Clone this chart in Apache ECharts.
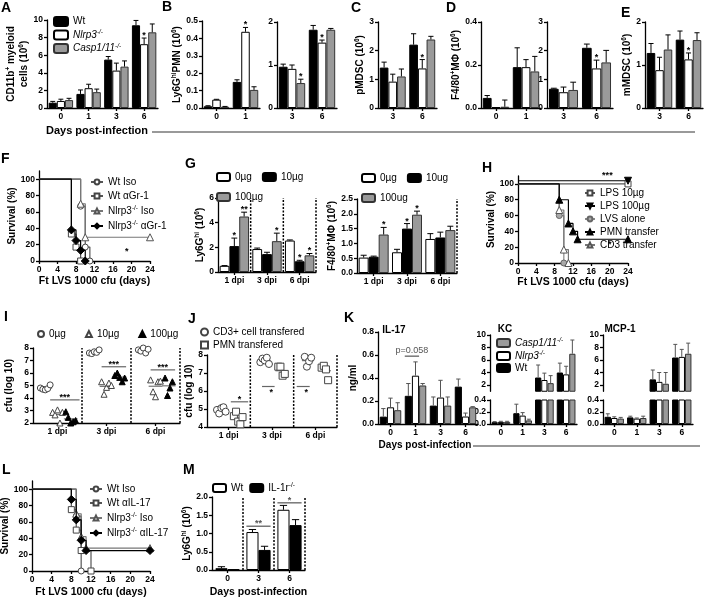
<!DOCTYPE html>
<html><head><meta charset="utf-8">
<script src="https://cdn.jsdelivr.net/npm/echarts@6/dist/echarts.min.js"></script>
<style>html,body{margin:0;padding:0;background:#fff}#c{width:706px;height:599px}</style>
</head><body><div id="c"></div>
<script>
// ---------------- DATA ----------------
const DAYS_A = ['0','1','3','6'];
const A_wt = [0.6, 1.6, 5.5, 9.4],   A_wt_err = [0.15, 0.45, 0.35, 0.55];
const A_nlrp3 = [0.8, 2.25, 4.25, 7.25], A_nlrp3_err = [0.2, 0.45, 0.85, 0.7], A_nlrp3_sig = ['','','','*'];
const A_casp = [0.9, 1.8, 4.7, 8.6], A_casp_err = [0.2, 0.35, 0.65, 0.95];

const DAYS_01 = ['0','1'], DAYS_36 = ['3','6'];
const B_wt = [0.01, 0.15], B_wt_err = [0.003, 0.012];
const B_nlrp3 = [0.048, 0.438], B_nlrp3_err = [0.002, 0.025], B_nlrp3_sig = ['','*'];
const B_casp = [0.007, 0.104], B_casp_err = [0.002, 0.018];
const B2_wt = [0.96, 1.82], B2_wt_err = [0.06, 0.1];
const B2_nlrp3 = [0.91, 1.52], B2_nlrp3_err = [0.09, 0.06], B2_nlrp3_sig = ['','*'];
const B2_casp = [0.58, 1.82], B2_casp_err = [0.09, 0.03], B2_casp_sig = ['*',''];

const C_wt = [1.41, 2.21], C_wt_err = [0.19, 0.38];
const C_nlrp3 = [0.92, 1.38], C_nlrp3_err = [0.26, 0.31], C_nlrp3_sig = ['','*'];
const C_casp = [1.1, 2.39], C_casp_err = [0.26, 0.11];

const D_wt = [0.047, 0.19], D_wt_err = [0.011, 0.09];
const D_nlrp3 = [0.004, 0.19], D_nlrp3_err = [0, 0.035];
const D_casp = [0.006, 0.17], D_casp_err = [0.031, 0.07];
const D2_wt = [0.67, 2.1], D2_wt_err = [0.02, 0.13];
const D2_nlrp3 = [0.55, 1.38], D2_nlrp3_err = [0.18, 0.29], D2_nlrp3_sig = ['','*'];
const D2_casp = [0.63, 1.59], D2_casp_err = [0.27, 0.42];

const E_wt = [1.28, 1.59], E_wt_err = [0.22, 0.2];
const E_nlrp3 = [0.88, 1.13], E_nlrp3_err = [0.3, 0.15], E_nlrp3_sig = ['','*'];
const E_casp = [1.36, 1.58], E_casp_err = [0.34, 0.17];

// survival (day, % survival)
const F_wt_iso = [[0,100],[9,67],[10,17],[11,0]];
const F_wt_gr1 = [[0,100],[7,33],[8,17],[9,0]];
const F_nlrp3_iso = [[0,100],[9,70],[10,29],[24,29]];
const F_nlrp3_gr1 = [[0,100],[7,38],[8,25],[9,13],[10,0]];
const F_notes = [[19, 12, '*']];

const DPI = ['1 dpi','3 dpi','6 dpi'];
const G_0 = [0.5, 1.86, 2.55], G_0_err = [0.02, 0.08, 0.05];
const G_10 = [2.1, 1.45, 0.87], G_10_err = [0.65, 0.15, 0.08], G_10_sig = ['*','','*'];
const G_100 = [4.5, 2.5, 1.35], G_100_err = [0.35, 0.65, 0.15], G_100_sig = ['**','*','*'];
const GR_0 = [0.52, 0.7, 1.15], GR_0_err = [0.08, 0.1, 0.18];
const GR_10 = [0.55, 1.5, 1.2], GR_10_err = [0.02, 0.17, 0.18], GR_10_sig = ['','*',''];
const GR_100 = [1.3, 1.97, 1.45], GR_100_err = [0.24, 0.12, 0.13], GR_100_sig = ['*','*',''];

const H_lps10 = [[0,100],[24,100]];
const H_lps100 = [[0,104],[24,104]];
const H_lvs = [[0,100],[9,60],[10,0]];
const H_pmn = [[0,100],[9,80],[11,50],[12,40],[13,30],[24,30]];
const H_cd3 = [[0,100],[9,67],[10,17],[11,0]];
const H_notes = [[19.5, 111, '***'], [20, 24, '*']];

const I_0ug = [[4.8, 4.7, 4.65, 4.75, 5.05], [7.6, 7.55, 7.7, 7.65, 7.85], [7.85, 7.75, 8.0, 7.6, 7.9]];
const I_10ug = [[2.85, 2.65, 3.05, 2.0, 2.85], [5.3, 4.3, 4.85, 5.2, 5.0], [5.45, 4.5, 4.1, 5.3, 5.35]];
const I_100ug = [[2.9, 2.45, 2.0, 2.1, 2.2], [5.8, 6.0, 5.65, 5.3, 5.6], [5.6, 4.2, 4.8, 5.3]];
const I_sig = [[0.35, 0.95, 3.85, '***', 0], [1.4, 1.9, 6.5, '***', 0], [2.4, 2.9, 6.25, '***', 0]];

const J_cd3 = [[4.95, 4.75, 5.05, 5.1, 4.85], [7.6, 7.8, 7.7, 7.85, 7.5], [7.9, 7.35, 7.65, 7.85]];
const J_pmn = [[4.6, 4.85, 4.3, 4.15, 4.55], [7.35, 7.35, 6.85, 6.95], [7.3, 7.4, 7.2, 6.6]];
const J_sig = [[0.55, 0.95, 5.4, '*', 0], [1.27, 1.56, 6.25, '*', 1], [2.07, 2.37, 6.25, '*', 1]];

const K_il17_wt = [0.064, 0.245, 0.16, 0.325], K_il17_wt_err = [0.07, 0.107, 0.075, 0.066];
const K_il17_nlrp3 = [0.145, 0.42, 0.23, 0.065], K_il17_nlrp3_err = [0.08, 0.12, 0.15, 0.03];
const K_il17_casp = [0.12, 0.335, 0.16, 0.145], K_il17_casp_err = [0.065, 0.017, 0.075, 0.006];
const KC_wt = [0.03, 0.18, 3.2, 4.0], KC_wt_err = [0.01, 0.15, 2.0, 1.5];
const KC_nlrp3 = [0.035, 0.14, 2.8, 3.7], KC_nlrp3_err = [0.01, 0.05, 1.1, 1.3];
const KC_casp = [0.035, 0.06, 2.3, 7.0], KC_casp_err = [0.01, 0.02, 1.2, 2.2];
const MCP_wt = [0.12, 0.11, 2.9, 6.4], MCP_wt_err = [0.05, 0.02, 1.5, 2.1];
const MCP_nlrp3 = [0.1, 0.09, 2.5, 6.5], MCP_nlrp3_err = [0.02, 0.01, 1.5, 1.2];
const MCP_casp = [0.09, 0.1, 2.2, 7.0], MCP_casp_err = [0.02, 0.03, 1.8, 1.7];

const L_wt_iso = [[0,100],[9,67],[10,0]];
const L_wt_il17 = [[0,100],[8,75],[9,50],[10,25],[12,0]];
const L_nlrp3_iso = [[0,100],[9,70],[10,42],[11,28],[24,28]];
const L_nlrp3_il17 = [[0,100],[8,87.5],[9,62.5],[10,37.5],[11,25],[24,25]];

const DAYS_M = ['0','3','6'];
const M_wt = [0.05, 1.04, 1.65], M_wt_err = [0.04, 0.07, 0.12];
const M_il1r = [0.02, 0.55, 1.23], M_il1r_err = [0, 0.1, 0.15];

// ---------------- BUILD ----------------
const FF = '"Liberation Sans", Arial, Helvetica, sans-serif';
const grids = [], xAxes = [], yAxes = [], series = [], legends = [], graphics = [];

const RICH_AX = {
  b: {fontSize: 10, fontWeight: 'bold', fontFamily: FF, color: '#000', lineHeight: 13},
  s: {fontSize: 6.5, fontWeight: 'bold', fontFamily: FF, color: '#000', verticalAlign: 'top', lineHeight: 7}
};
const RICH_LG = {
  t: {fontSize: 10, fontFamily: FF, color: '#000', lineHeight: 12},
  i: {fontSize: 10, fontFamily: FF, fontStyle: 'italic', color: '#000', lineHeight: 12},
  is: {fontSize: 6.5, fontFamily: FF, fontStyle: 'italic', color: '#000', verticalAlign: 'top', lineHeight: 6},
  s: {fontSize: 6.5, fontFamily: FF, color: '#000', verticalAlign: 'top', lineHeight: 6}
};
const LBL = {
  Wt: '{t|Wt}', Nlrp3: '{i|Nlrp3}{is|-/-}', Casp: '{i|Casp1/11}{is|-/-}',
  KWt: '{t|Wt}', KNlrp3: '{i|Nlrp3}{is|-/-}', KCasp: '{i|Casp1/11}{is|-/-}',
  F1: '{t|Wt Iso}', F2: '{t|Wt \u03b1Gr-1}', F3: '{t|Nlrp3}{s|-/-}{t| Iso}', F4: '{t|Nlrp3}{s|-/-}{t| \u03b1Gr-1}',
  G0: '{t|0\u00b5g}', G10: '{t|10\u00b5g}', G100: '{t|100\u00b5g}',
  R0: '{t|0\u00b5g}', R10: '{t|10ug}', R100: '{t|100ug}',
  H1: '{t|LPS 10\u00b5g}', H2: '{t|LPS 100\u00b5g}', H3: '{t|LVS alone}', H4: '{t|PMN transfer}', H5: '{t|CD3 transfer}',
  I0: '{t|0\u00b5g}', I10: '{t|10\u00b5g}', I100: '{t|100\u00b5g}',
  J1: '{t|CD3+ cell transfered}', J2: '{t|PMN transfered}',
  L1: '{t|Wt Iso}', L2: '{t|Wt \u03b1IL-17}', L3: '{t|Nlrp3}{s|-/-}{t| Iso}', L4: '{t|Nlrp3}{s|-/-}{t| \u03b1IL-17}',
  MWt: '{t|Wt}', MIL: '{t|IL-1r}{s|-/-}'
};
const STY = {
  black: {color: '#000', borderColor: '#000', borderWidth: 1},
  white: {color: '#fff', borderColor: '#000', borderWidth: 1},
  gray: {color: '#9a9a9a', borderColor: '#333', borderWidth: 1}
};
const LINE = {show: true, onZero: false, lineStyle: {color: '#000', width: 1.3}};
const TICK = {show: true, length: 3, lineStyle: {color: '#000', width: 1.3}};
const TFONT = {fontSize: 8.5, fontWeight: 'bold', color: '#000', fontFamily: FF};

function addGrid(l, t, w, h) {
  grids.push({left: l, top: t, width: w, height: h, containLabel: false, outerBoundsMode: 'none'});
  return grids.length - 1;
}
function catX(gi, cats, extra) {
  xAxes.push(Object.assign({type: 'category', gridIndex: gi, data: cats, boundaryGap: true,
    axisLine: LINE, axisTick: Object.assign({}, TICK, {alignWithLabel: true}),
    axisLabel: Object.assign({}, TFONT, {margin: 4, interval: 0}), splitLine: {show: false}}, extra || {}));
  return xAxes.length - 1;
}
function valY(gi, y, name, gap) {
  const ax = {type: 'value', gridIndex: gi, min: y.min, max: y.max,
    axisLine: LINE, axisTick: Object.assign({}, TICK),
    axisLabel: Object.assign({}, TFONT, {margin: 4}), splitLine: {show: false}};
  if (y.interval != null) ax.interval = y.interval;
  if (y.custom) { ax.axisLabel.customValues = y.custom; ax.axisTick.customValues = y.custom; }
  if (y.dec != null) ax.axisLabel.formatter = v => v.toFixed(y.dec);
  if (name) Object.assign(ax, {name, nameLocation: 'middle', nameRotate: 90, nameGap: gap, nameTextStyle: {rich: RICH_AX}});
  yAxes.push(ax);
  return yAxes.length - 1;
}
function barGeom(api, c, k, n, gap) {
  const band = api.size([1, 0])[0];
  const bw = band * (1 - gap) / n;
  return {bw, cx: api.coord([c, 0])[0] + (k - (n - 1) / 2) * bw};
}
function errSeries(xi, yi, n, gap, rows, color) {
  series.push({type: 'custom', xAxisIndex: xi, yAxisIndex: yi, z: 5, silent: true,
    data: rows.map(r => [r.c, r.v + r.e]),
    renderItem(params, api) {
      const r = rows[params.dataIndex];
      const g = barGeom(api, r.c, r.k, n, gap);
      const yb = api.coord([r.c, r.v])[1], yt = api.coord([r.c, r.v + r.e])[1];
      const cw = Math.max(2, g.bw * 0.3);
      const ch = [];
      if (r.e > 0) {
        ch.push({type: 'line', shape: {x1: g.cx, y1: yb, x2: g.cx, y2: yt}, style: {stroke: color, lineWidth: 1}});
        ch.push({type: 'line', shape: {x1: g.cx - cw, y1: yt, x2: g.cx + cw, y2: yt}, style: {stroke: color, lineWidth: 1}});
      }
      if (r.s) ch.push({type: 'text', x: g.cx, y: yt + 2, style: {text: r.s, fontSize: 9, fontWeight: 'bold', fontFamily: FF, fill: '#000', align: 'center', verticalAlign: 'bottom'}});
      return {type: 'group', children: ch};
    }});
}
function vlinesCat(xi, yi, bounds, yMin, yMax) {
  series.push({type: 'custom', xAxisIndex: xi, yAxisIndex: yi, silent: true, z: 1,
    data: bounds.map(b => [b - 1, yMin]),
    renderItem(params, api) {
      const b = bounds[params.dataIndex];
      const band = api.size([1, 0])[0];
      const x = api.coord([b - 1, yMin])[0] + band / 2;
      const y0 = api.coord([b - 1, yMin])[1], y1 = api.coord([b - 1, yMax])[1];
      return {type: 'line', shape: {x1: x, y1: y0, x2: x, y2: y1}, style: {stroke: '#000', lineWidth: 1.5, lineDash: [2, 1.5]}};
    }});
}
function vlinesVal(xi, yi, bounds, yMin, yMax) {
  series.push({type: 'custom', xAxisIndex: xi, yAxisIndex: yi, silent: true, z: 1,
    data: bounds.map(b => [b, yMin]),
    renderItem(params, api) {
      const b = bounds[params.dataIndex];
      const p0 = api.coord([b, yMin]), p1 = api.coord([b, yMax]);
      return {type: 'line', shape: {x1: p0[0], y1: p0[1], x2: p1[0], y2: p1[1]}, style: {stroke: '#000', lineWidth: 1.5, lineDash: [2, 1.5]}};
    }});
}
function bracketsCat(xi, yi, n, gap, items) {
  series.push({type: 'custom', xAxisIndex: xi, yAxisIndex: yi, silent: true, z: 6,
    data: items.map(it => [it.c, it.y]),
    renderItem(params, api) {
      const it = items[params.dataIndex];
      const ga = barGeom(api, it.c, it.a, n, gap), gb = barGeom(api, it.c, it.b, n, gap);
      const x0 = ga.cx - ga.bw / 2, x1 = gb.cx + gb.bw / 2;
      const y = api.coord([it.c, it.y])[1];
      return {type: 'group', children: [
        {type: 'line', shape: {x1: x0, y1: y, x2: x1, y2: y}, style: {stroke: it.color || '#555', lineWidth: 1.2}},
        {type: 'text', x: (x0 + x1) / 2, y: y - 1 + (it.bold ? 3 : 0), style: {text: it.t, fontSize: it.fs || 9, fontWeight: it.bold ? 'bold' : 'normal', fontFamily: FF, fill: it.color || '#000', align: 'center', verticalAlign: 'bottom'}}
      ]};
    }});
}
function bracketsVal(xi, yi, items) {
  series.push({type: 'custom', xAxisIndex: xi, yAxisIndex: yi, silent: true, z: 6,
    data: items.map(it => [it[0], it[2]]),
    renderItem(params, api) {
      const it = items[params.dataIndex];
      const p0 = api.coord([it[0], it[2]]), p1 = api.coord([it[1], it[2]]);
      const below = it[4] === 1;
      return {type: 'group', children: [
        {type: 'line', shape: {x1: p0[0], y1: p0[1], x2: p1[0], y2: p1[1]}, style: {stroke: '#666', lineWidth: 1.2}},
        {type: 'text', x: (p0[0] + p1[0]) / 2 + (below ? 3 : 0), y: p0[1] + 2, style: {text: it[3], fontSize: 9, fontWeight: 'bold', fontFamily: FF, fill: '#000', align: 'center', verticalAlign: below ? 'top' : 'bottom'}}
      ]};
    }});
}
function notesVal(xi, yi, items) {
  series.push({type: 'custom', xAxisIndex: xi, yAxisIndex: yi, silent: true, z: 6,
    data: items.map(it => [it[0], it[1]]),
    renderItem(params, api) {
      const it = items[params.dataIndex];
      const p = api.coord([it[0], it[1]]);
      return {type: 'text', x: p[0], y: p[1], style: {text: it[2], fontSize: 9, fontWeight: 'bold', fontFamily: FF, fill: '#000', align: 'center', verticalAlign: 'middle'}};
    }});
}
function barPanel(p) {
  const gi = addGrid(p.rect[0], p.rect[1], p.rect[2], p.rect[3]);
  const xi = catX(gi, p.cats, p.xOpts);
  const yi = valY(gi, p.y, p.yName, p.yNameGap);
  const n = p.sets.length, gap = p.gap != null ? p.gap : 0.12;
  const rows = [];
  p.sets.forEach((s, k) => {
    series.push({type: 'bar', name: s.name, xAxisIndex: xi, yAxisIndex: yi, data: s.v, barGap: '0%',
      barCategoryGap: (gap * 100) + '%', itemStyle: STY[s.sty], clip: true, silent: true, z: 2});
    s.v.forEach((v, c) => {
      if (v == null) return;
      const e = s.e ? s.e[c] : null, st = s.st ? s.st[c] : '';
      if (e != null || st) rows.push({c, k, v, e: e || 0, s: st || ''});
    });
  });
  if (rows.length) errSeries(xi, yi, n, gap, rows, p.errColor || '#000');
  if (p.vlines) vlinesCat(xi, yi, p.vlines, p.y.min, p.y.max);
  if (p.brackets) bracketsCat(xi, yi, n, gap, p.brackets);
  return {gi, xi, yi};
}
function kmPanel(p) {
  const gi = addGrid(p.rect[0], p.rect[1], p.rect[2], p.rect[3]);
  xAxes.push({type: 'value', gridIndex: gi, min: 0, max: 24, interval: 4, axisLine: LINE, axisTick: TICK,
    axisLabel: Object.assign({}, TFONT, {margin: 4}), splitLine: {show: false},
    name: 'Ft LVS 1000 cfu (days)', nameLocation: 'middle', nameGap: p.xNameGap,
    nameTextStyle: {fontSize: 10.5, fontWeight: 'bold', fontFamily: FF, color: '#000'}});
  const xi = xAxes.length - 1;
  const yi = valY(gi, {min: 0, max: 110, custom: [0, 20, 40, 60, 80, 100]}, '{b|Survival (%)}', p.yNameGap);
  p.curves.forEach(cv => {
    series.push({type: 'line', name: cv.name, xAxisIndex: xi, yAxisIndex: yi, step: 'end', silent: true,
      data: cv.pts.map((pt, i) => i === 0 ? {value: pt, symbol: 'none'} : {value: pt}),
      symbol: cv.sym, symbolSize: cv.size || 6, symbolRotate: cv.rot || 0, showAllSymbol: true,
      lineStyle: {color: cv.line, width: 1.2},
      itemStyle: {color: cv.fill, borderColor: cv.border, borderWidth: 1}, z: cv.z || 3});
  });
  if (p.notes) notesVal(xi, yi, p.notes);
  return {gi, xi, yi};
}
function scatterPanel(p) {
  const gi = addGrid(p.rect[0], p.rect[1], p.rect[2], p.rect[3]);
  catX(gi, p.cats);
  xAxes.push({type: 'value', gridIndex: gi, min: 0, max: p.cats.length, show: false, splitLine: {show: false}});
  const xv = xAxes.length - 1;
  const yi = valY(gi, p.y, p.yName, p.yNameGap);
  const means = [];
  p.sets.forEach(s => {
    const data = [];
    s.groups.forEach((vals, g) => {
      vals.forEach((v, j) => data.push([g + s.center + (j - (vals.length - 1) / 2) * 0.05, v]));
      means.push([g + s.center, vals.reduce((a, b) => a + b, 0) / vals.length]);
    });
    series.push({type: 'scatter', name: s.name, xAxisIndex: xv, yAxisIndex: yi, data, silent: true,
      symbol: s.sym, symbolSize: s.size || 6, itemStyle: {color: s.fill, borderColor: s.border, borderWidth: 1, opacity: 1}, z: 4});
  });
  series.push({type: 'custom', xAxisIndex: xv, yAxisIndex: yi, silent: true, z: 3, data: means,
    renderItem(params, api) {
      const m = means[params.dataIndex];
      const p0 = api.coord([m[0] - 0.14, m[1]]), p1 = api.coord([m[0] + 0.14, m[1]]);
      return {type: 'line', shape: {x1: p0[0], y1: p0[1], x2: p1[0], y2: p1[1]}, style: {stroke: '#777', lineWidth: 1.2}};
    }});
  vlinesVal(xv, yi, [1, 2, 3], p.y.min, p.y.max);
  bracketsVal(xv, yi, p.sig);
}
function legend(cfg) {
  legends.push(Object.assign({selectedMode: false, orient: 'vertical', itemWidth: 13, itemHeight: 8, itemGap: 2, padding: 0,
    formatter: nm => LBL[nm], textStyle: {fontSize: 10, fontFamily: FF, color: '#000', rich: RICH_LG}}, cfg));
}
function label(x, y, text, opt) {
  graphics.push({type: 'text', x, y, silent: true, style: Object.assign({text, fontFamily: FF, fontSize: 14, fontWeight: 'bold', fill: '#000', align: 'left', verticalAlign: 'top'}, opt || {})});
}
function hline(x1, x2, y) {
  graphics.push({type: 'line', silent: true, shape: {x1, y1: y, x2, y2: y}, style: {stroke: '#999', lineWidth: 2}});
}

// ----- Row 1 -----
const SIX = '{b|(10}{s|6}{b|)}';
barPanel({rect: [47, 20, 111, 88], cats: DAYS_A, y: {min: 0, max: 10, interval: 2},
  yName: '{b|CD11b}{s|+}{b| myeloid}\n{b|cells }' + SIX, yNameGap: 14,
  sets: [{name: 'Wt', v: A_wt, e: A_wt_err, sty: 'black'}, {name: 'Nlrp3', v: A_nlrp3, e: A_nlrp3_err, st: A_nlrp3_sig, sty: 'white'}, {name: 'Casp', v: A_casp, e: A_casp_err, sty: 'gray'}]});
barPanel({rect: [202, 21, 58, 87], cats: DAYS_01, y: {min: 0, max: 0.5, interval: 0.1, dec: 1},
  yName: '{b|Ly6G}{s|hi}{b|PMN }' + SIX, yNameGap: 17,
  sets: [{name: 'Wt', v: B_wt, e: B_wt_err, sty: 'black'}, {name: 'Nlrp3', v: B_nlrp3, e: B_nlrp3_err, st: B_nlrp3_sig, sty: 'white'}, {name: 'Casp', v: B_casp, e: B_casp_err, sty: 'gray'}]});
barPanel({rect: [277, 22, 60, 86], cats: DAYS_36, y: {min: 0, max: 2, interval: 1},
  sets: [{name: 'Wt', v: B2_wt, e: B2_wt_err, sty: 'black'}, {name: 'Nlrp3', v: B2_nlrp3, e: B2_nlrp3_err, st: B2_nlrp3_sig, sty: 'white'}, {name: 'Casp', v: B2_casp, e: B2_casp_err, st: B2_casp_sig, sty: 'gray'}]});
barPanel({rect: [378, 22, 59, 86], cats: DAYS_36, y: {min: 0, max: 3, interval: 1},
  yName: '{b|pMDSC }' + SIX, yNameGap: 11,
  sets: [{name: 'Wt', v: C_wt, e: C_wt_err, sty: 'black'}, {name: 'Nlrp3', v: C_nlrp3, e: C_nlrp3_err, st: C_nlrp3_sig, sty: 'white'}, {name: 'Casp', v: C_casp, e: C_casp_err, sty: 'gray'}]});
barPanel({rect: [481, 22, 60, 86], cats: DAYS_01, y: {min: 0, max: 0.4, interval: 0.2, dec: 1},
  yName: '{b|F4/80}{s|+}{b|M\u03a6 }' + SIX, yNameGap: 13,
  sets: [{name: 'Wt', v: D_wt, e: D_wt_err, sty: 'black'}, {name: 'Nlrp3', v: D_nlrp3, e: D_nlrp3_err, sty: 'white'}, {name: 'Casp', v: D_casp, e: D_casp_err, sty: 'gray'}]});
barPanel({rect: [547, 22, 66, 86], cats: DAYS_36, y: {min: 0, max: 3, interval: 1},
  sets: [{name: 'Wt', v: D2_wt, e: D2_wt_err, sty: 'black'}, {name: 'Nlrp3', v: D2_nlrp3, e: D2_nlrp3_err, st: D2_nlrp3_sig, sty: 'white'}, {name: 'Casp', v: D2_casp, e: D2_casp_err, sty: 'gray'}]});
barPanel({rect: [645, 22, 58, 86], cats: DAYS_36, y: {min: 0, max: 2, interval: 1},
  yName: '{b|mMDSC }' + SIX, yNameGap: 8,
  sets: [{name: 'Wt', v: E_wt, e: E_wt_err, sty: 'black'}, {name: 'Nlrp3', v: E_nlrp3, e: E_nlrp3_err, st: E_nlrp3_sig, sty: 'white'}, {name: 'Casp', v: E_casp, e: E_casp_err, sty: 'gray'}]});
legend({left: 53, top: 16, itemWidth: 14, itemHeight: 9, itemGap: 2, data: ['Wt', 'Nlrp3', 'Casp']});

// ----- Row 2 -----
kmPanel({rect: [39, 171, 111, 90], xNameGap: 15, yNameGap: 17, notes: F_notes, curves: [
  {name: 'F1', pts: F_wt_iso, sym: 'circle', line: '#555', fill: '#fff', border: '#444'},
  {name: 'F2', pts: F_wt_gr1, sym: 'rect', line: '#555', fill: '#fff', border: '#444'},
  {name: 'F3', pts: F_nlrp3_iso, sym: 'triangle', size: 7, line: '#777', fill: '#fff', border: '#555'},
  {name: 'F4', pts: F_nlrp3_gr1, sym: 'diamond', size: 8, line: '#000', fill: '#000', border: '#000', z: 4}]});
legend({left: 90, top: 177, itemWidth: 12, itemHeight: 6, itemGap: 4, data: ['F1', 'F2', 'F3', 'F4']});

barPanel({rect: [218, 198, 98, 74], cats: DPI, y: {min: 0, max: 6, interval: 2}, gap: 0.1,
  yName: '{b|Ly6G}{s|hi}{b| }' + SIX, yNameGap: 11, vlines: [1, 2, 3],
  sets: [{name: 'G0', v: G_0, e: G_0_err, sty: 'white'}, {name: 'G10', v: G_10, e: G_10_err, st: G_10_sig, sty: 'black'}, {name: 'G100', v: G_100, e: G_100_err, st: G_100_sig, sty: 'gray'}]});
legend({left: 216, top: 172, orient: 'horizontal', width: 100, itemGap: 10, data: ['G0', 'G10', 'G100']});
barPanel({rect: [357, 199, 100, 74], cats: DPI, y: {min: 0, max: 2.5, interval: 0.5, dec: 1}, gap: 0.1,
  yName: '{b|F4/80}{s|+}{b|M\u03a6 }' + SIX, yNameGap: 11, vlines: [3],
  sets: [{name: 'R0', v: GR_0, e: GR_0_err, sty: 'white'}, {name: 'R10', v: GR_10, e: GR_10_err, st: GR_10_sig, sty: 'black'}, {name: 'R100', v: GR_100, e: GR_100_err, st: GR_100_sig, sty: 'gray'}]});
legend({left: 361, top: 173, orient: 'horizontal', width: 100, itemGap: 10, data: ['R0', 'R10', 'R100']});

kmPanel({rect: [518, 176, 110, 87], xNameGap: 14, yNameGap: 17, notes: H_notes, curves: [
  {name: 'H1', pts: H_lps10, sym: 'rect', line: '#555', fill: '#fff', border: '#444'},
  {name: 'H2', pts: H_lps100, sym: 'triangle', rot: 180, size: 7, line: '#000', fill: '#000', border: '#000'},
  {name: 'H3', pts: H_lvs, sym: 'circle', line: '#888', fill: '#aaa', border: '#666'},
  {name: 'H4', pts: H_pmn, sym: 'triangle', size: 7, line: '#000', fill: '#000', border: '#000', z: 4},
  {name: 'H5', pts: H_cd3, sym: 'triangle', size: 7, line: '#777', fill: '#fff', border: '#555'}]});
legend({left: 584, top: 188, itemWidth: 10, itemHeight: 6, itemGap: 3, data: ['H1', 'H2', 'H3', 'H4', 'H5']});

// ----- Row 3 -----
scatterPanel({rect: [33, 348, 147, 75], cats: DPI, y: {min: 2, max: 8, interval: 1}, yName: '{b|cfu (log 10)}', yNameGap: 17, sig: I_sig,
  sets: [{name: 'I0', groups: I_0ug, center: 0.25, sym: 'circle', fill: '#fff', border: '#444'},
         {name: 'I10', groups: I_10ug, center: 0.5, sym: 'triangle', fill: '#fff', border: '#444'},
         {name: 'I100', groups: I_100ug, center: 0.77, sym: 'triangle', fill: '#000', border: '#000'}]});
legend({left: 37, top: 329, orient: 'horizontal', itemWidth: 6, itemHeight: 6, itemGap: 19, data: ['I0', 'I10', 'I100']});

scatterPanel({rect: [207, 355, 130, 72], cats: DPI, y: {min: 4, max: 8, interval: 1}, yName: '{b|cfu (log 10)}', yNameGap: 11, sig: J_sig,
  sets: [{name: 'J1', groups: J_cd3, center: 0.33, sym: 'circle', size: 7, fill: '#fff', border: '#444'},
         {name: 'J2', groups: J_pmn, center: 0.72, sym: 'rect', size: 7, fill: '#fff', border: '#444'}]});
legend({left: 200, top: 327, itemWidth: 7, itemHeight: 7, itemGap: 3, data: ['J1', 'J2']});

barPanel({rect: [378, 332, 100, 92], cats: DAYS_A, y: {min: 0, max: 0.8, interval: 0.2, dec: 1}, gap: 0.14, errColor: '#555',
  yName: '{b|ng/ml}', yNameGap: 16,
  brackets: [{c: 1, a: 0, b: 1, y: 0.59, t: 'p=0.058', color: '#555', fs: 9}],
  sets: [{name: 'KWt', v: K_il17_wt, e: K_il17_wt_err, sty: 'black'}, {name: 'KNlrp3', v: K_il17_nlrp3, e: K_il17_nlrp3_err, sty: 'white'}, {name: 'KCasp', v: K_il17_casp, e: K_il17_casp_err, sty: 'gray'}]});

function brokenPanel(left, width, wt, wtE, nl, nlE, cs, csE) {
  const up = a => a.map((v, i) => i >= 2 ? v : null);
  const lo = a => a.map((v, i) => i < 2 ? v : null);
  barPanel({rect: [left, 335, width, 56.25], cats: DAYS_A, y: {min: 1, max: 10, custom: [2, 4, 6, 8, 10]}, gap: 0.14, errColor: '#555',
    xOpts: {show: false},
    sets: [{name: 'KWt', v: up(wt), e: up(wtE), sty: 'black'}, {name: 'KNlrp3', v: up(nl), e: up(nlE), sty: 'white'}, {name: 'KCasp', v: up(cs), e: up(csE), sty: 'gray'}]});
  barPanel({rect: [left, 400, width, 24], cats: DAYS_A, y: {min: 0, max: 0.4, interval: 0.2, dec: 1}, gap: 0.14, errColor: '#555',
    sets: [{name: 'KWt', v: wt, e: lo(wtE), sty: 'black'}, {name: 'KNlrp3', v: nl, e: lo(nlE), sty: 'white'}, {name: 'KCasp', v: cs, e: lo(csE), sty: 'gray'}]});
}
brokenPanel(490, 87, KC_wt, KC_wt_err, KC_nlrp3, KC_nlrp3_err, KC_casp, KC_casp_err);
brokenPanel(603, 90, MCP_wt, MCP_wt_err, MCP_nlrp3, MCP_nlrp3_err, MCP_casp, MCP_casp_err);
legend({left: 496, top: 337, itemWidth: 13, itemHeight: 8, itemGap: 2, data: ['KCasp', 'KNlrp3', 'KWt']});

// ----- Row 4 -----
kmPanel({rect: [32, 481, 118, 90], xNameGap: 16, yNameGap: 19, curves: [
  {name: 'L1', pts: L_wt_iso, sym: 'circle', line: '#555', fill: '#fff', border: '#444'},
  {name: 'L2', pts: L_wt_il17, sym: 'rect', line: '#555', fill: '#fff', border: '#444'},
  {name: 'L3', pts: L_nlrp3_iso, sym: 'triangle', size: 7, line: '#777', fill: '#fff', border: '#555'},
  {name: 'L4', pts: L_nlrp3_il17, sym: 'diamond', size: 8, line: '#000', fill: '#000', border: '#000', z: 4}]});
legend({left: 89, top: 484, itemWidth: 12, itemHeight: 6, itemGap: 4, data: ['L1', 'L2', 'L3', 'L4']});

const mP = barPanel({rect: [212, 497, 93, 73], cats: DAYS_M, y: {min: 0, max: 2, interval: 0.5, dec: 1}, gap: 0.22,
  yName: '{b|Ly6G}{s|hi}{b| }' + SIX, yNameGap: 18, vlines: [1, 2, 3],
  brackets: [{c: 1, a: 0, b: 1, y: 1.2, t: '**', bold: true, color: '#555'}, {c: 2, a: 0, b: 1, y: 1.84, t: '*', bold: true, color: '#555'}],
  sets: [{name: 'MWt', v: M_wt, e: M_wt_err, sty: 'white'}, {name: 'MIL', v: M_il1r, e: M_il1r_err, sty: 'black'}]});
Object.assign(xAxes[mP.xi], {name: 'Days post-infection', nameLocation: 'middle', nameGap: 17,
  nameTextStyle: {fontSize: 10.5, fontWeight: 'bold', fontFamily: FF, color: '#000'}});
legend({left: 212, top: 482, orient: 'horizontal', itemGap: 6, data: ['MWt', 'MIL']});

// ----- text / decorations -----
label(1, 1, 'A'); label(162, 0, 'B'); label(351, 1, 'C'); label(446, 1, 'D'); label(621, 6, 'E');
label(1, 152, 'F'); label(185, 157, 'G'); label(482, 161, 'H');
label(4, 310, 'I'); label(188, 312, 'J'); label(344, 311, 'K');
label(2, 463, 'L'); label(183, 463, 'M');
label(97, 131, 'Days post-infection', {fontSize: 11, align: 'center', verticalAlign: 'middle'});
hline(152, 695, 132);
label(425, 445, 'Days post-infection', {fontSize: 10, align: 'center', verticalAlign: 'middle'});
hline(473, 700, 446);
label(394, 330, 'IL-17', {fontSize: 10, align: 'center', verticalAlign: 'middle'});
label(505, 329, 'KC', {fontSize: 10, align: 'center', verticalAlign: 'middle'});
label(620, 329, 'MCP-1', {fontSize: 10, align: 'center', verticalAlign: 'middle'});

const chart = echarts.init(document.getElementById('c'), null, {renderer: 'canvas'});
chart.setOption({animation: false, backgroundColor: '#fff', textStyle: {fontFamily: FF},
  grid: grids, xAxis: xAxes, yAxis: yAxes, series, legend: legends, graphic: graphics});
</script></body></html>
